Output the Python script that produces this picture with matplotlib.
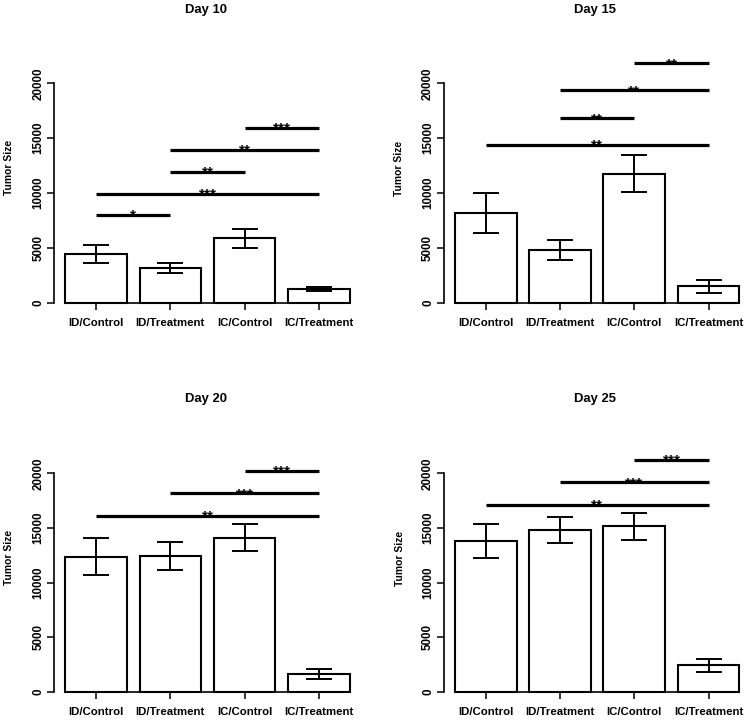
import matplotlib
matplotlib.use("Agg")
import matplotlib.pyplot as plt

plt.rcParams['font.family'] = ['Liberation Sans', 'DejaVu Sans']

categories = ["ID/Control", "ID/Treatment", "IC/Control", "IC/Treatment"]
days = ["Day 10", "Day 15", "Day 20", "Day 25"]

means_d10 = [4420, 3190, 5860, 1280]
err_d10 = [810, 450, 850, 180]
means_d15 = [8160, 4790, 11780, 1500]
err_d15 = [1800, 910, 1650, 580]
means_d20 = [12380, 12470, 14110, 1620]
err_d20 = [1720, 1280, 1220, 460]
means_d25 = [13810, 14820, 15150, 2440]
err_d25 = [1570, 1160, 1220, 580]

# (group i, group j, bracket height, label)
sig_d10 = [(0, 1, 7990, "*"), (0, 3, 9910, "***"), (1, 2, 11910, "**"),
           (1, 3, 13950, "**"), (2, 3, 15930, "***")]
sig_d15 = [(0, 3, 14380, "**"), (1, 2, 16810, "**"), (1, 3, 19360, "**"),
           (2, 3, 21820, "**")]
sig_d20 = [(0, 3, 16130, "**"), (1, 3, 18170, "***"), (2, 3, 20240, "***")]
sig_d25 = [(0, 3, 17100, "**"), (1, 3, 19180, "***"), (2, 3, 21220, "***")]

yticks = [0, 5000, 10000, 15000, 20000]

panels = [
    (days[0], means_d10, err_d10, sig_d10),
    (days[1], means_d15, err_d15, sig_d15),
    (days[2], means_d20, err_d20, sig_d20),
    (days[3], means_d25, err_d25, sig_d25),
]

W, H = 747, 722
fig = plt.figure(figsize=(W / 100, H / 100), dpi=100)

# layout in pixels: (axes left px, y-px of value 0, px per 20000)
layout = [
    (54.0, 302.7, 219.3),
    (443.8, 302.7, 219.3),
    (54.0, 692.0, 218.7),
    (443.8, 692.0, 218.7),
]
title_pos = [(206.3, 10), (595.5, 10), (206.3, 399), (595.5, 399)]
ylabel_pos = [(9, 167.5), (398.5, 168), (9, 557.5), (400, 558)]

xlo, xhi = 0.016, 4.984
px_per_unit = 61.8
ytop = 22500
centers = [0.7, 1.9, 3.1, 4.3]

for k, (title, means, errs, sigs) in enumerate(panels):
    left, y0, sc = layout[k]
    width_px = (xhi - xlo) * px_per_unit
    top_px = y0 - ytop * sc / 20000
    ax = fig.add_axes([left / W, 1 - y0 / H, width_px / W, (y0 - top_px) / H])
    ax.set_xlim(xlo, xhi)
    ax.set_ylim(0, ytop)
    ax.bar(centers, means, width=1.0, color='white', edgecolor='black',
           linewidth=1.5, clip_on=False, zorder=2)
    ax.errorbar(centers, means, yerr=errs, fmt='none', ecolor='black',
                elinewidth=1.4, capsize=9.6, capthick=1.4, zorder=3, clip_on=False)
    for (i, j, yv, lab) in sigs:
        ax.plot([centers[i], centers[j]], [yv, yv], color='black', lw=2.3,
                solid_capstyle='butt', clip_on=False, zorder=4)
        ax.annotate(lab, xy=((centers[i] + centers[j]) / 2, yv),
                    xytext=(0, -3.4), textcoords='offset points',
                    ha='center', va='baseline', fontsize=11, fontweight='bold',
                    annotation_clip=False, zorder=5)
    for s in ['top', 'right']:
        ax.spines[s].set_visible(False)
    ax.spines['left'].set_bounds(0, 20000)
    ax.spines['bottom'].set_bounds(centers[0], centers[-1])
    ax.spines['left'].set_linewidth(1.2)
    ax.spines['bottom'].set_linewidth(1.2)
    ax.set_yticks(yticks)
    ax.set_yticklabels([str(v) for v in yticks], rotation=90, va='center',
                       fontsize=8.4, fontweight='bold')
    ax.set_xticks(centers)
    ax.set_xticklabels(categories, fontsize=8.2, fontweight='bold')
    ax.tick_params(axis='y', direction='out', length=5, width=1.1, pad=2)
    ax.tick_params(axis='x', direction='out', length=5, width=1.1, pad=6)
    tx, ty = title_pos[k]
    fig.text(tx / W, 1 - ty / H, title, ha='center', va='center',
             fontsize=9.4, fontweight='bold')
    lx, ly = ylabel_pos[k]
    fig.text(lx / W, 1 - ly / H, "Tumor Size", ha='center', va='center',
             rotation=90, fontsize=7.4, fontweight='bold')

fig.savefig("out.png", dpi=100)
